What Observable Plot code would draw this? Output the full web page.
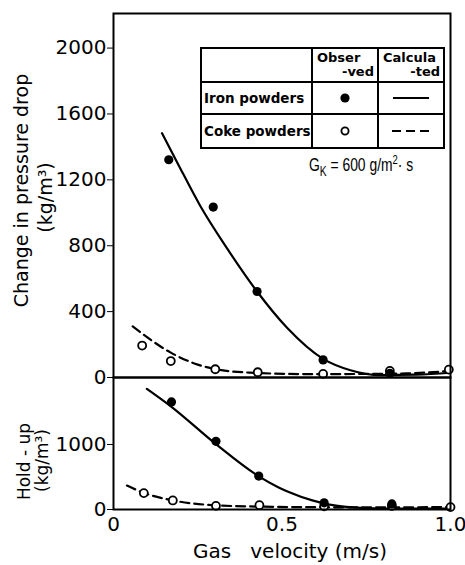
<!DOCTYPE html>
<html>
<head>
<meta charset="utf-8">
<script src="https://cdn.jsdelivr.net/npm/d3@7"></script>
<script src="https://cdn.jsdelivr.net/npm/@observablehq/plot@0.6"></script>
<style>
  html, body { margin: 0; padding: 0; background: #fff; }
  #wrap { position: relative; width: 465px; height: 565px; overflow: hidden; background: #fff; }
  #wrap > svg { position: absolute; left: 0; overflow: visible; }
  #legend { position: absolute; left: 200px; top: 47px; width: 243px; border-collapse: collapse;
            font-family: "DejaVu Sans", sans-serif; font-weight: bold; color: #000; table-layout: fixed; }
  #legend td { border: 2px solid #000; padding: 0; text-align: center; vertical-align: middle; }
  #legend td.lab { text-align: left; padding-left: 2px; font-size: 13.5px; white-space: nowrap; }
  #legend td.h { font-size: 13px; line-height: 14px; }
  #legend td.h .l { text-align: left; padding-left: 4px; }
  #legend td.h .r { text-align: right; padding-right: 3px; }
  #legend svg { display: block; margin: 0 auto; }
  #gk { position: absolute; left: 309px; top: 154px; font-family: "Liberation Sans", sans-serif;
        font-size: 19px; line-height: 22px; color: #000; white-space: pre;
        transform: scaleX(0.73); transform-origin: 0 50%; }
  #gk .sub { font-size: 14px; position: relative; top: 5px; }
  #gk .sup { font-size: 13px; position: relative; top: -7px; }
</style>
</head>
<body>
<div id="wrap"></div>
<script>
// ---- Data (gas velocity in m/s) ----
// Change in pressure drop (kg/m3), observed
const velIronObsDrop = [0.164, 0.296, 0.426, 0.622, 0.82];
const dropIronObs    = [1322, 1035, 522, 107, 25];
const velCokeObsDrop = [0.085, 0.17, 0.302, 0.428, 0.622, 0.82, 0.995];
const dropCokeObs    = [194, 100, 50, 32, 22, 40, 48];
// Change in pressure drop, calculated curves
const velIronCalcDrop = [0.144, 0.189, 0.258, 0.337, 0.426, 0.515, 0.622, 0.703, 0.792, 0.90, 1.0];
const dropIronCalc    = [1483, 1306, 1040, 784, 522, 302, 113, 44, 14, 17, 29];
const velCokeCalcDrop = [0.057, 0.17, 0.25, 0.32, 0.42, 0.52, 0.62, 0.75, 0.87, 1.0];
const dropCokeCalc    = [310, 151, 78, 45, 28, 22, 20, 22, 25, 40];
// Hold-up (kg/m3), observed
const velIronObsHold = [0.172, 0.304, 0.431, 0.625, 0.826];
const holdIronObs    = [1655, 1049, 514, 102, 85];
const velCokeObsHold = [0.09, 0.176, 0.304, 0.433, 0.625, 0.826, 1.0];
const holdCokeObs    = [252, 139, 56, 67, 50, 55, 37];
// Hold-up, calculated curves
const velIronCalcHold = [0.099, 0.172, 0.303, 0.43, 0.49, 0.52, 0.59, 0.69, 0.8, 1.0];
const holdIronCalc    = [1855, 1579, 1009, 514, 340, 270, 140, 40, 15, 15];
const velCokeCalcHold = [0.04, 0.09, 0.176, 0.3, 0.43, 0.6, 0.8, 1.0];
const holdCokeCalc    = [368, 255, 140, 65, 45, 35, 33, 37];
// Axis ticks and labels
const dropTicks = [0, 400, 800, 1200, 1600, 2000];
const holdTicks = [0, 1000];
const velTicks = [0, 0.5, 1.0];
const velTickLabels = ["0", "0.5", "1.0"];
const dropLabel = ["Change in pressure drop", "(kg/m³)"];
const holdLabel = ["Hold - up", "(kg/m³)"];
const xLabel = "Gas   velocity (m/s)";

const zip = (xs, ys) => xs.map((x, i) => ({x, y: ys[i]}));

const common = {
  width: 465,
  marginLeft: 113,
  marginRight: 15,
  style: {fontFamily: "DejaVu Sans, sans-serif", fontSize: "20px", background: "transparent", overflow: "visible", color: "#000"}
};

const lineOpts = {x: "x", y: "y", curve: "monotone-x", stroke: "#000", strokeWidth: 2.2};
const dashOpts = {...lineOpts, strokeDasharray: "9,5"};
const ironDot = {x: "x", y: "y", r: 4.6, fill: "#000", stroke: "none"};
const cokeDot = {x: "x", y: "y", r: 4, fill: "#fff", stroke: "#000", strokeWidth: 1.8};
const ylab = {frameAnchor: "left", rotate: -90, textAnchor: "middle", lineAnchor: "middle"};

const topPlot = Plot.plot({
  ...common,
  height: 377,
  marginTop: 13,
  marginBottom: 0,
  x: {domain: [0, 1], axis: null},
  y: {domain: [0, 2210], ticks: dropTicks, tickFormat: d => String(d), tickSize: 6, tickPadding: 1, label: null},
  marks: [
    Plot.line(zip(velCokeCalcDrop, dropCokeCalc), dashOpts),
    Plot.line(zip(velIronCalcDrop, dropIronCalc), lineOpts),
    Plot.dot(zip(velCokeObsDrop, dropCokeObs), cokeDot),
    Plot.dot(zip(velIronObsDrop, dropIronObs), ironDot),
    Plot.frame({stroke: "#000", strokeWidth: 2}),
    Plot.text([dropLabel[0]], {...ylab, dx: -92, dy: -5, fontSize: 19}),
    Plot.text([dropLabel[1]], {...ylab, dx: -68, dy: 2, fontSize: 19})
  ]
});

const bottomPlot = Plot.plot({
  ...common,
  height: 188,
  marginTop: 0,
  marginBottom: 56,
  x: {domain: [0, 1], ticks: velTicks, tickFormat: (d, i) => velTickLabels[i], tickSize: 0, tickPadding: 7, label: null},
  y: {domain: [0, 2030], ticks: holdTicks, tickFormat: d => String(d), tickSize: 6, tickPadding: 1, label: null},
  marks: [
    Plot.line(zip(velCokeCalcHold, holdCokeCalc), dashOpts),
    Plot.line(zip(velIronCalcHold, holdIronCalc), lineOpts),
    Plot.dot(zip(velCokeObsHold, holdCokeObs), cokeDot),
    Plot.dot(zip(velIronObsHold, holdIronObs), ironDot),
    Plot.frame({stroke: "#000", strokeWidth: 2}),
    Plot.text([holdLabel[0]], {...ylab, dx: -89, dy: 18, fontSize: 17}),
    Plot.text([holdLabel[1]], {...ylab, dx: -71, dy: 17, fontSize: 17}),
    Plot.text([xLabel], {frameAnchor: "bottom", textAnchor: "middle", lineAnchor: "middle", dx: 8, dy: 42, fontSize: 20})
  ]
});

const wrap = document.getElementById("wrap");
topPlot.style.top = "0px";
bottomPlot.style.top = "377px";
wrap.appendChild(topPlot);
wrap.appendChild(bottomPlot);

// Legend table
const legend = document.createElement("table");
legend.id = "legend";
legend.innerHTML = `
  <colgroup><col style="width:111px"><col style="width:66px"><col style="width:66px"></colgroup>
  <tr style="height:34px"><td></td>
    <td class="h"><div class="l">Obser</div><div class="r">-ved</div></td>
    <td class="h"><div class="l">Calcula</div><div class="r">-ted</div></td></tr>
  <tr style="height:32px"><td class="lab">Iron powders</td>
    <td><svg width="14" height="14"><circle cx="7" cy="7" r="4.6" fill="#000"/></svg></td>
    <td><svg width="40" height="6"><line x1="2" y1="3" x2="38" y2="3" stroke="#000" stroke-width="2.2"/></svg></td></tr>
  <tr style="height:34px"><td class="lab">Coke powders</td>
    <td><svg width="14" height="14"><circle cx="7" cy="7" r="3.6" fill="#fff" stroke="#000" stroke-width="1.8"/></svg></td>
    <td><svg width="40" height="6"><line x1="1" y1="3" x2="39" y2="3" stroke="#000" stroke-width="2.2" stroke-dasharray="9,5"/></svg></td></tr>`;
wrap.appendChild(legend);

const gk = document.createElement("div");
gk.id = "gk";
gk.innerHTML = `G<span class="sub">K</span> = 600 g/m<span class="sup">2</span>· s`;
wrap.appendChild(gk);
</script>
</body>
</html>
